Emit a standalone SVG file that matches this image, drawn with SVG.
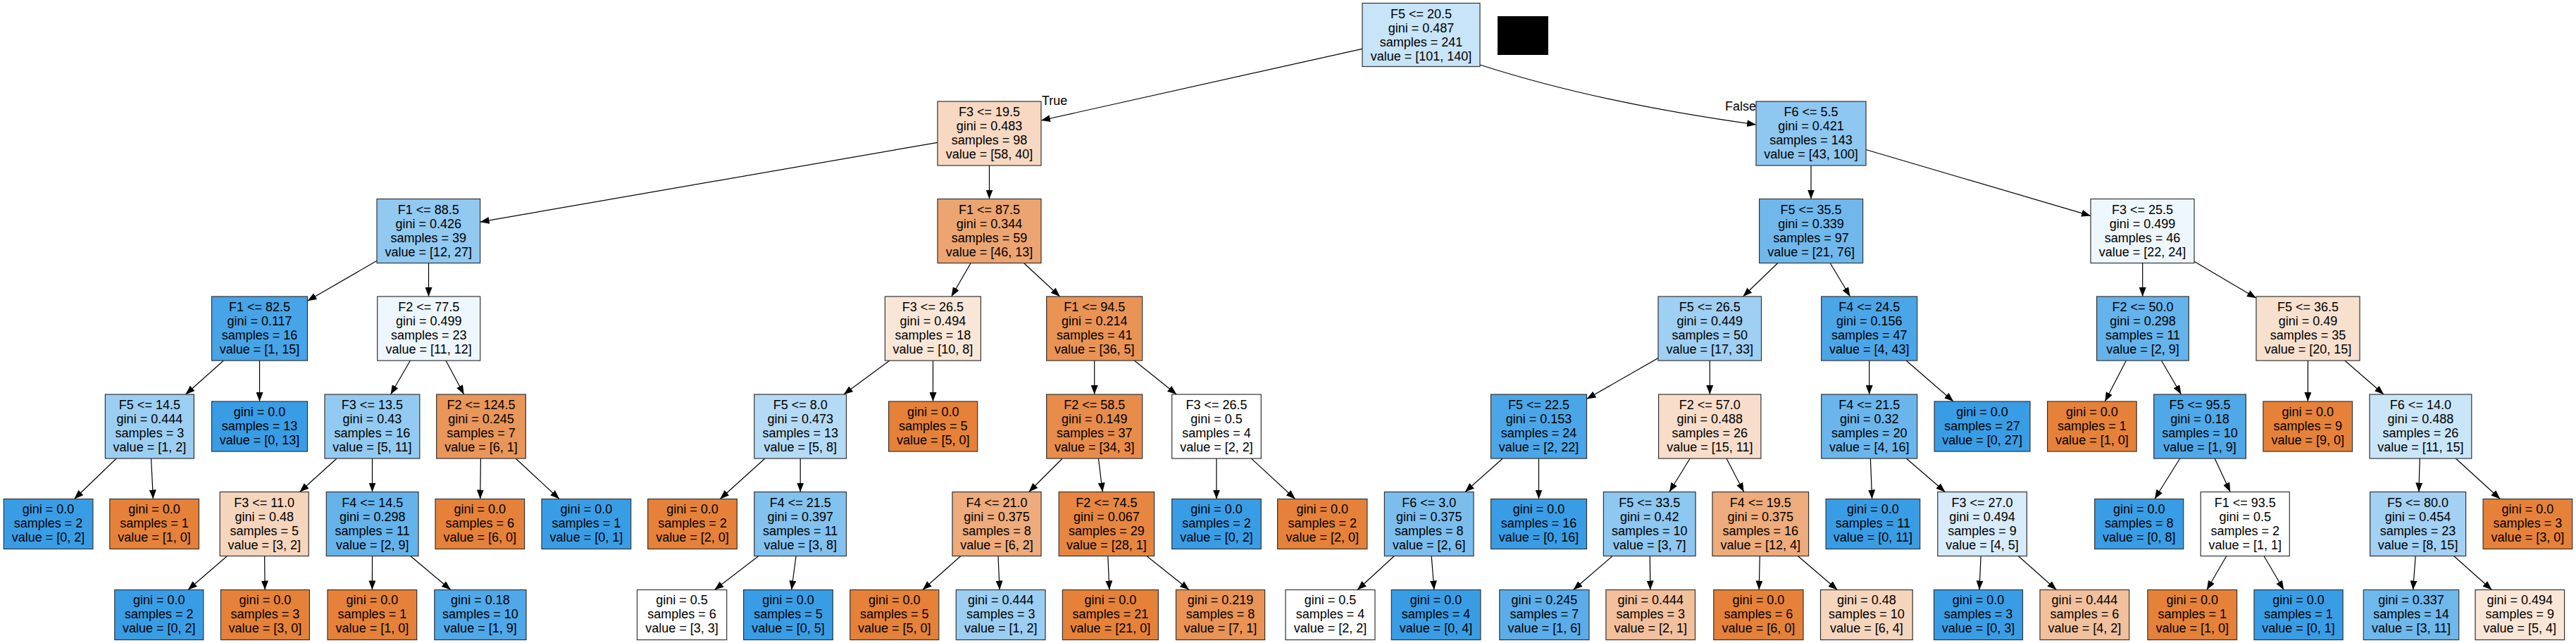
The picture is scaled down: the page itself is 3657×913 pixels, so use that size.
<svg xmlns="http://www.w3.org/2000/svg" width="3657" height="913" viewBox="0 0 3657 913">
<defs>
<marker id="arr" viewBox="0 0 13 10" refX="13" refY="5" markerWidth="13" markerHeight="10" markerUnits="userSpaceOnUse" orient="auto"><path d="M0,0 L13,5 L0,10 z" fill="#000"/></marker>
</defs>
<style>
.node rect{stroke:#333;stroke-width:1.2}
text{font-family:"Liberation Sans",Arial,Helvetica,sans-serif;font-size:18px;fill:#000;text-anchor:middle}
.lbl{text-anchor:start}
.lblend{text-anchor:end}
#edges path{stroke:#000;stroke-width:1.2;fill:none;marker-end:url(#arr)}
.o{fill:#e58139}.b{fill:#399de5}.w{fill:#ffffff}
</style>
<rect x="0" y="0" width="3657" height="913" fill="#ffffff"/>
<g id="edges">
<path d="M1934,69.4 L1478,171"/>
<path d="M2101,92 C2231,134 2363,159 2493,177"/>
<path d="M1331,202.3 L681.6,315.2"/>
<path d="M1404.5,235 L1404.5,282.5"/>
<path d="M2571,235 L2571,282.5"/>
<path d="M2649,212.5 L2968,306.4"/>
<path d="M535,370.3 L436.5,427.2"/>
<path d="M608.5,373.5 L608.5,421"/>
<path d="M1378.2,373.5 L1350.7,421"/>
<path d="M1453.5,373.5 L1504.7,421"/>
<path d="M2523.8,373.5 L2474.5,421"/>
<path d="M2598.2,373.5 L2626.5,421"/>
<path d="M3041.7,373.5 L3041.7,421"/>
<path d="M3115,371.3 L3203,423.2"/>
<path d="M317.4,512 L263.5,560"/>
<path d="M368.5,512 L368.5,570"/>
<path d="M582.4,512 L554.6,560"/>
<path d="M633,512 L658.7,560"/>
<path d="M1262.8,512 L1197.8,560"/>
<path d="M1324.5,512 L1324.5,570"/>
<path d="M1553.7,512 L1553.7,560"/>
<path d="M1610.4,512 L1670.3,560"/>
<path d="M2354,508.4 L2252.5,566.6"/>
<path d="M2427.3,512 L2427.3,560"/>
<path d="M2653.7,512 L2653.7,560"/>
<path d="M2706.2,512 L2773.1,570"/>
<path d="M3018.4,512 L2988.3,570"/>
<path d="M3068.5,512 L3096.5,560"/>
<path d="M3276.4,512 L3276.4,570"/>
<path d="M3328.8,512 L3384.1,560"/>
<path d="M165.2,651 L105.5,708.5"/>
<path d="M214.6,651 L217.4,708.5"/>
<path d="M478.1,651 L425.5,698.5"/>
<path d="M528.5,651 L528.5,698.5"/>
<path d="M682.4,651 L681.7,708.5"/>
<path d="M732.1,651 L794.1,708.5"/>
<path d="M1085.9,651 L1022.3,708.5"/>
<path d="M1136.2,651 L1136.2,698.5"/>
<path d="M1508.2,651 L1460.6,698.5"/>
<path d="M1559.4,651 L1565.3,698.5"/>
<path d="M1727,651 L1727,708.5"/>
<path d="M1776.4,651 L1838.7,708.5"/>
<path d="M2133.3,651 L2079.9,698.5"/>
<path d="M2184.5,651 L2184.5,708.5"/>
<path d="M2399.2,651 L2369.9,698.5"/>
<path d="M2451,651 L2475.7,698.5"/>
<path d="M2655.4,651 L2657.6,708.5"/>
<path d="M2706.4,651 L2761.4,698.5"/>
<path d="M3094.7,651 L3058.9,708.5"/>
<path d="M3144.2,651 L3166.2,698.5"/>
<path d="M3435.2,651 L3433.9,698.5"/>
<path d="M3486.3,651 L3549.4,708.5"/>
<path d="M322.5,789.5 L266.9,837.5"/>
<path d="M375.6,789.5 L376.1,837.5"/>
<path d="M528.5,789.5 L528.4,837.5"/>
<path d="M582.7,789.5 L639.8,837.5"/>
<path d="M1076.9,789.5 L1014.4,837.5"/>
<path d="M1130.1,789.5 L1123.7,837.5"/>
<path d="M1363.9,789.5 L1309.8,837.5"/>
<path d="M1417,789.5 L1419.1,837.5"/>
<path d="M1572.8,789.5 L1574.9,837.5"/>
<path d="M1627.9,789.5 L1688.1,837.5"/>
<path d="M1979.3,789.5 L1927.1,837.5"/>
<path d="M2032.2,789.5 L2035.9,837.5"/>
<path d="M2289.1,789.5 L2233.6,837.5"/>
<path d="M2342.3,789.5 L2342.8,837.5"/>
<path d="M2498.3,789.5 L2497.2,837.5"/>
<path d="M2552.4,789.5 L2608.4,837.5"/>
<path d="M2812.1,789.5 L2810,837.5"/>
<path d="M2865.3,789.5 L2919.4,837.5"/>
<path d="M3160.8,789.5 L3132.9,837.5"/>
<path d="M3214,789.5 L3242.2,837.5"/>
<path d="M3429.2,789.5 L3425.6,837.5"/>
<path d="M3483.6,789.5 L3537.5,837.5"/>
</g>
<text class="lbl" x="1479" y="148.5">True</text>
<text class="lblend" x="2493" y="156.5">False</text>
<rect x="2126" y="23" width="72" height="55" fill="#000"/>

<g id="n0" class="node"><rect x="1934" y="4.5" width="167" height="90" fill="#c8e4f8"/><text x="2017.5" y="25.5"><tspan x="2017.5">F5 &lt;= 20.5</tspan><tspan x="2017.5" dy="20">gini = 0.487</tspan><tspan x="2017.5" dy="20">samples = 241</tspan><tspan x="2017.5" dy="20">value = [101, 140]</tspan></text></g>

<g id="n1" class="node"><rect x="1331" y="144" width="147" height="91" fill="#f7d8c2"/><text x="1404.5" y="165"><tspan x="1404.5">F3 &lt;= 19.5</tspan><tspan x="1404.5" dy="20">gini = 0.483</tspan><tspan x="1404.5" dy="20">samples = 98</tspan><tspan x="1404.5" dy="20">value = [58, 40]</tspan></text></g>
<g id="n2" class="node"><rect x="2493" y="144" width="156" height="91" fill="#8ec7f0"/><text x="2571" y="165"><tspan x="2571">F6 &lt;= 5.5</tspan><tspan x="2571" dy="20">gini = 0.421</tspan><tspan x="2571" dy="20">samples = 143</tspan><tspan x="2571" dy="20">value = [43, 100]</tspan></text></g>

<g id="n3" class="node"><rect x="535" y="282.5" width="146.6" height="91" fill="#91c9f1"/><text x="608.3" y="303.5"><tspan x="608.3">F1 &lt;= 88.5</tspan><tspan x="608.3" dy="20">gini = 0.426</tspan><tspan x="608.3" dy="20">samples = 39</tspan><tspan x="608.3" dy="20">value = [12, 27]</tspan></text></g>
<g id="n4" class="node"><rect x="1331" y="282.5" width="147" height="91" fill="#eca571"/><text x="1404.5" y="303.5"><tspan x="1404.5">F1 &lt;= 87.5</tspan><tspan x="1404.5" dy="20">gini = 0.344</tspan><tspan x="1404.5" dy="20">samples = 59</tspan><tspan x="1404.5" dy="20">value = [46, 13]</tspan></text></g>
<g id="n5" class="node"><rect x="2497.6" y="282.5" width="147" height="91" fill="#70b8ec"/><text x="2571.1" y="303.5"><tspan x="2571.1">F5 &lt;= 35.5</tspan><tspan x="2571.1" dy="20">gini = 0.339</tspan><tspan x="2571.1" dy="20">samples = 97</tspan><tspan x="2571.1" dy="20">value = [21, 76]</tspan></text></g>
<g id="n6" class="node"><rect x="2968" y="282.5" width="147" height="91" fill="#eef7fd"/><text x="3041.5" y="303.5"><tspan x="3041.5">F3 &lt;= 25.5</tspan><tspan x="3041.5" dy="20">gini = 0.499</tspan><tspan x="3041.5" dy="20">samples = 46</tspan><tspan x="3041.5" dy="20">value = [22, 24]</tspan></text></g>

<g id="n7" class="node"><rect x="300.5" y="421" width="136" height="91" fill="#46a4e7"/><text x="368.5" y="442"><tspan x="368.5">F1 &lt;= 82.5</tspan><tspan x="368.5" dy="20">gini = 0.117</tspan><tspan x="368.5" dy="20">samples = 16</tspan><tspan x="368.5" dy="20">value = [1, 15]</tspan></text></g>
<g id="n8" class="node"><rect x="535.7" y="421" width="146" height="91" fill="#eef7fd"/><text x="608.7" y="442"><tspan x="608.7">F2 &lt;= 77.5</tspan><tspan x="608.7" dy="20">gini = 0.499</tspan><tspan x="608.7" dy="20">samples = 23</tspan><tspan x="608.7" dy="20">value = [11, 12]</tspan></text></g>
<g id="n9" class="node"><rect x="1256.4" y="421" width="136" height="91" fill="#fae6d7"/><text x="1324.4" y="442"><tspan x="1324.4">F3 &lt;= 26.5</tspan><tspan x="1324.4" dy="20">gini = 0.494</tspan><tspan x="1324.4" dy="20">samples = 18</tspan><tspan x="1324.4" dy="20">value = [10, 8]</tspan></text></g>
<g id="n10" class="node"><rect x="1485.7" y="421" width="136" height="91" fill="#e99355"/><text x="1553.7" y="442"><tspan x="1553.7">F1 &lt;= 94.5</tspan><tspan x="1553.7" dy="20">gini = 0.214</tspan><tspan x="1553.7" dy="20">samples = 41</tspan><tspan x="1553.7" dy="20">value = [36, 5]</tspan></text></g>
<g id="n11" class="node"><rect x="2354" y="421" width="146.5" height="91" fill="#9fcff2"/><text x="2427.3" y="442"><tspan x="2427.3">F5 &lt;= 26.5</tspan><tspan x="2427.3" dy="20">gini = 0.449</tspan><tspan x="2427.3" dy="20">samples = 50</tspan><tspan x="2427.3" dy="20">value = [17, 33]</tspan></text></g>
<g id="n12" class="node"><rect x="2585.7" y="421" width="136" height="91" fill="#4ba6e7"/><text x="2653.7" y="442"><tspan x="2653.7">F4 &lt;= 24.5</tspan><tspan x="2653.7" dy="20">gini = 0.156</tspan><tspan x="2653.7" dy="20">samples = 47</tspan><tspan x="2653.7" dy="20">value = [4, 43]</tspan></text></g>
<g id="n13" class="node"><rect x="2976.6" y="421" width="130.7" height="91" fill="#65b3eb"/><text x="3042" y="442"><tspan x="3042">F2 &lt;= 50.0</tspan><tspan x="3042" dy="20">gini = 0.298</tspan><tspan x="3042" dy="20">samples = 11</tspan><tspan x="3042" dy="20">value = [2, 9]</tspan></text></g>
<g id="n14" class="node"><rect x="3203" y="421" width="147" height="91" fill="#f8e0ce"/><text x="3276.5" y="442"><tspan x="3276.5">F5 &lt;= 36.5</tspan><tspan x="3276.5" dy="20">gini = 0.49</tspan><tspan x="3276.5" dy="20">samples = 35</tspan><tspan x="3276.5" dy="20">value = [20, 15]</tspan></text></g>

<g id="n15" class="node"><rect x="149.4" y="560" width="126" height="91" fill="#9ccef2"/><text x="212.4" y="581"><tspan x="212.4">F5 &lt;= 14.5</tspan><tspan x="212.4" dy="20">gini = 0.444</tspan><tspan x="212.4" dy="20">samples = 3</tspan><tspan x="212.4" dy="20">value = [1, 2]</tspan></text></g>
<g id="n16" class="node"><rect x="300.5" y="570" width="136" height="71" class="b"/><text x="368.5" y="590.5"><tspan x="368.5">gini = 0.0</tspan><tspan x="368.5" dy="20">samples = 13</tspan><tspan x="368.5" dy="20">value = [0, 13]</tspan></text></g>
<g id="n17" class="node"><rect x="461" y="560" width="134.8" height="91" fill="#93caf1"/><text x="528.4" y="581"><tspan x="528.4">F3 &lt;= 13.5</tspan><tspan x="528.4" dy="20">gini = 0.43</tspan><tspan x="528.4" dy="20">samples = 16</tspan><tspan x="528.4" dy="20">value = [5, 11]</tspan></text></g>
<g id="n18" class="node"><rect x="619.7" y="560" width="126.6" height="91" fill="#e9965a"/><text x="683" y="581"><tspan x="683">F2 &lt;= 124.5</tspan><tspan x="683" dy="20">gini = 0.245</tspan><tspan x="683" dy="20">samples = 7</tspan><tspan x="683" dy="20">value = [6, 1]</tspan></text></g>
<g id="n19" class="node"><rect x="1070.8" y="560" width="130.7" height="91" fill="#b5daf5"/><text x="1136.2" y="581"><tspan x="1136.2">F5 &lt;= 8.0</tspan><tspan x="1136.2" dy="20">gini = 0.473</tspan><tspan x="1136.2" dy="20">samples = 13</tspan><tspan x="1136.2" dy="20">value = [5, 8]</tspan></text></g>
<g id="n20" class="node"><rect x="1261.6" y="570" width="126.1" height="71" class="o"/><text x="1324.7" y="590.5"><tspan x="1324.7">gini = 0.0</tspan><tspan x="1324.7" dy="20">samples = 5</tspan><tspan x="1324.7" dy="20">value = [5, 0]</tspan></text></g>
<g id="n21" class="node"><rect x="1485.7" y="560" width="136" height="91" fill="#e78c4a"/><text x="1553.7" y="581"><tspan x="1553.7">F2 &lt;= 58.5</tspan><tspan x="1553.7" dy="20">gini = 0.149</tspan><tspan x="1553.7" dy="20">samples = 37</tspan><tspan x="1553.7" dy="20">value = [34, 3]</tspan></text></g>
<g id="n22" class="node"><rect x="1663.7" y="560" width="126.6" height="91" class="w"/><text x="1727" y="581"><tspan x="1727">F3 &lt;= 26.5</tspan><tspan x="1727" dy="20">gini = 0.5</tspan><tspan x="1727" dy="20">samples = 4</tspan><tspan x="1727" dy="20">value = [2, 2]</tspan></text></g>
<g id="n23" class="node"><rect x="2116.5" y="560" width="136" height="91" fill="#4ba6e7"/><text x="2184.5" y="581"><tspan x="2184.5">F5 &lt;= 22.5</tspan><tspan x="2184.5" dy="20">gini = 0.153</tspan><tspan x="2184.5" dy="20">samples = 24</tspan><tspan x="2184.5" dy="20">value = [2, 22]</tspan></text></g>
<g id="n24" class="node"><rect x="2354.6" y="560" width="145.3" height="91" fill="#f8ddca"/><text x="2427.3" y="581"><tspan x="2427.3">F2 &lt;= 57.0</tspan><tspan x="2427.3" dy="20">gini = 0.488</tspan><tspan x="2427.3" dy="20">samples = 26</tspan><tspan x="2427.3" dy="20">value = [15, 11]</tspan></text></g>
<g id="n25" class="node"><rect x="2585.7" y="560" width="136" height="91" fill="#6ab6ec"/><text x="2653.7" y="581"><tspan x="2653.7">F4 &lt;= 21.5</tspan><tspan x="2653.7" dy="20">gini = 0.32</tspan><tspan x="2653.7" dy="20">samples = 20</tspan><tspan x="2653.7" dy="20">value = [4, 16]</tspan></text></g>
<g id="n26" class="node"><rect x="2746.1" y="570" width="135.9" height="71" class="b"/><text x="2814.1" y="590.5"><tspan x="2814.1">gini = 0.0</tspan><tspan x="2814.1" dy="20">samples = 27</tspan><tspan x="2814.1" dy="20">value = [0, 27]</tspan></text></g>
<g id="n27" class="node"><rect x="2906.6" y="570" width="126.6" height="71" class="o"/><text x="2969.9" y="590.5"><tspan x="2969.9">gini = 0.0</tspan><tspan x="2969.9" dy="20">samples = 1</tspan><tspan x="2969.9" dy="20">value = [1, 0]</tspan></text></g>
<g id="n28" class="node"><rect x="3057.7" y="560" width="130.7" height="91" fill="#4fa8e8"/><text x="3123.1" y="581"><tspan x="3123.1">F5 &lt;= 95.5</tspan><tspan x="3123.1" dy="20">gini = 0.18</tspan><tspan x="3123.1" dy="20">samples = 10</tspan><tspan x="3123.1" dy="20">value = [1, 9]</tspan></text></g>
<g id="n29" class="node"><rect x="3212.9" y="570" width="126.6" height="71" class="o"/><text x="3276.2" y="590.5"><tspan x="3276.2">gini = 0.0</tspan><tspan x="3276.2" dy="20">samples = 9</tspan><tspan x="3276.2" dy="20">value = [9, 0]</tspan></text></g>
<g id="n30" class="node"><rect x="3364" y="560" width="144.8" height="91" fill="#cae5f8"/><text x="3436.4" y="581"><tspan x="3436.4">F6 &lt;= 14.0</tspan><tspan x="3436.4" dy="20">gini = 0.488</tspan><tspan x="3436.4" dy="20">samples = 26</tspan><tspan x="3436.4" dy="20">value = [11, 15]</tspan></text></g>

<g id="n31" class="node"><rect x="5.3" y="708.5" width="126.6" height="71" class="b"/><text x="68.6" y="729"><tspan x="68.6">gini = 0.0</tspan><tspan x="68.6" dy="20">samples = 2</tspan><tspan x="68.6" dy="20">value = [0, 2]</tspan></text></g>
<g id="n32" class="node"><rect x="155.8" y="708.5" width="126.6" height="71" class="o"/><text x="219.1" y="729"><tspan x="219.1">gini = 0.0</tspan><tspan x="219.1" dy="20">samples = 1</tspan><tspan x="219.1" dy="20">value = [1, 0]</tspan></text></g>
<g id="n33" class="node"><rect x="312.2" y="698.5" width="126" height="91" fill="#f6d5bd"/><text x="375.2" y="719.5"><tspan x="375.2">F3 &lt;= 11.0</tspan><tspan x="375.2" dy="20">gini = 0.48</tspan><tspan x="375.2" dy="20">samples = 5</tspan><tspan x="375.2" dy="20">value = [3, 2]</tspan></text></g>
<g id="n34" class="node"><rect x="463.3" y="698.5" width="130.7" height="91" fill="#65b3eb"/><text x="528.7" y="719.5"><tspan x="528.7">F4 &lt;= 14.5</tspan><tspan x="528.7" dy="20">gini = 0.298</tspan><tspan x="528.7" dy="20">samples = 11</tspan><tspan x="528.7" dy="20">value = [2, 9]</tspan></text></g>
<g id="n35" class="node"><rect x="618" y="708.5" width="126.6" height="71" class="o"/><text x="681.3" y="729"><tspan x="681.3">gini = 0.0</tspan><tspan x="681.3" dy="20">samples = 6</tspan><tspan x="681.3" dy="20">value = [6, 0]</tspan></text></g>
<g id="n36" class="node"><rect x="769" y="708.5" width="126.7" height="71" class="b"/><text x="832.4" y="729"><tspan x="832.4">gini = 0.0</tspan><tspan x="832.4" dy="20">samples = 1</tspan><tspan x="832.4" dy="20">value = [0, 1]</tspan></text></g>
<g id="n37" class="node"><rect x="919.7" y="708.5" width="126.6" height="71" class="o"/><text x="983" y="729"><tspan x="983">gini = 0.0</tspan><tspan x="983" dy="20">samples = 2</tspan><tspan x="983" dy="20">value = [2, 0]</tspan></text></g>
<g id="n38" class="node"><rect x="1070.8" y="698.5" width="130.7" height="91" fill="#83c2ef"/><text x="1136.2" y="719.5"><tspan x="1136.2">F4 &lt;= 21.5</tspan><tspan x="1136.2" dy="20">gini = 0.397</tspan><tspan x="1136.2" dy="20">samples = 11</tspan><tspan x="1136.2" dy="20">value = [3, 8]</tspan></text></g>
<g id="n39" class="node"><rect x="1352" y="698.5" width="126.1" height="91" fill="#eeab7b"/><text x="1415.1" y="719.5"><tspan x="1415.1">F4 &lt;= 21.0</tspan><tspan x="1415.1" dy="20">gini = 0.375</tspan><tspan x="1415.1" dy="20">samples = 8</tspan><tspan x="1415.1" dy="20">value = [6, 2]</tspan></text></g>
<g id="n40" class="node"><rect x="1503.2" y="698.5" width="135.4" height="91" fill="#e68640"/><text x="1570.9" y="719.5"><tspan x="1570.9">F2 &lt;= 74.5</tspan><tspan x="1570.9" dy="20">gini = 0.067</tspan><tspan x="1570.9" dy="20">samples = 29</tspan><tspan x="1570.9" dy="20">value = [28, 1]</tspan></text></g>
<g id="n41" class="node"><rect x="1663.7" y="708.5" width="126.6" height="71" class="b"/><text x="1727" y="729"><tspan x="1727">gini = 0.0</tspan><tspan x="1727" dy="20">samples = 2</tspan><tspan x="1727" dy="20">value = [0, 2]</tspan></text></g>
<g id="n42" class="node"><rect x="1813.6" y="708.5" width="127.3" height="71" class="o"/><text x="1877.3" y="729"><tspan x="1877.3">gini = 0.0</tspan><tspan x="1877.3" dy="20">samples = 2</tspan><tspan x="1877.3" dy="20">value = [2, 0]</tspan></text></g>
<g id="n43" class="node"><rect x="1965.4" y="698.5" width="126.6" height="91" fill="#7bbeee"/><text x="2028.7" y="719.5"><tspan x="2028.7">F6 &lt;= 3.0</tspan><tspan x="2028.7" dy="20">gini = 0.375</tspan><tspan x="2028.7" dy="20">samples = 8</tspan><tspan x="2028.7" dy="20">value = [2, 6]</tspan></text></g>
<g id="n44" class="node"><rect x="2116.5" y="708.5" width="136" height="71" class="b"/><text x="2184.5" y="729"><tspan x="2184.5">gini = 0.0</tspan><tspan x="2184.5" dy="20">samples = 16</tspan><tspan x="2184.5" dy="20">value = [0, 16]</tspan></text></g>
<g id="n45" class="node"><rect x="2276.4" y="698.5" width="130.7" height="91" fill="#8ec7f0"/><text x="2341.8" y="719.5"><tspan x="2341.8">F5 &lt;= 33.5</tspan><tspan x="2341.8" dy="20">gini = 0.42</tspan><tspan x="2341.8" dy="20">samples = 10</tspan><tspan x="2341.8" dy="20">value = [3, 7]</tspan></text></g>
<g id="n46" class="node"><rect x="2431" y="698.5" width="136.6" height="91" fill="#eeab7b"/><text x="2499.3" y="719.5"><tspan x="2499.3">F4 &lt;= 19.5</tspan><tspan x="2499.3" dy="20">gini = 0.375</tspan><tspan x="2499.3" dy="20">samples = 16</tspan><tspan x="2499.3" dy="20">value = [12, 4]</tspan></text></g>
<g id="n47" class="node"><rect x="2592.1" y="708.5" width="133.6" height="71" class="b"/><text x="2658.9" y="729"><tspan x="2658.9">gini = 0.0</tspan><tspan x="2658.9" dy="20">samples = 11</tspan><tspan x="2658.9" dy="20">value = [0, 11]</tspan></text></g>
<g id="n48" class="node"><rect x="2750.8" y="698.5" width="126.6" height="91" fill="#d7ebfa"/><text x="2814.1" y="719.5"><tspan x="2814.1">F3 &lt;= 27.0</tspan><tspan x="2814.1" dy="20">gini = 0.494</tspan><tspan x="2814.1" dy="20">samples = 9</tspan><tspan x="2814.1" dy="20">value = [4, 5]</tspan></text></g>
<g id="n49" class="node"><rect x="2973.7" y="708.5" width="126" height="71" class="b"/><text x="3036.7" y="729"><tspan x="3036.7">gini = 0.0</tspan><tspan x="3036.7" dy="20">samples = 8</tspan><tspan x="3036.7" dy="20">value = [0, 8]</tspan></text></g>
<g id="n50" class="node"><rect x="3124.2" y="698.5" width="126.1" height="91" class="w"/><text x="3187.3" y="719.5"><tspan x="3187.3">F1 &lt;= 93.5</tspan><tspan x="3187.3" dy="20">gini = 0.5</tspan><tspan x="3187.3" dy="20">samples = 2</tspan><tspan x="3187.3" dy="20">value = [1, 1]</tspan></text></g>
<g id="n51" class="node"><rect x="3364.6" y="698.5" width="136" height="91" fill="#a3d1f3"/><text x="3432.6" y="719.5"><tspan x="3432.6">F5 &lt;= 80.0</tspan><tspan x="3432.6" dy="20">gini = 0.454</tspan><tspan x="3432.6" dy="20">samples = 23</tspan><tspan x="3432.6" dy="20">value = [8, 15]</tspan></text></g>
<g id="n52" class="node"><rect x="3525.1" y="708.5" width="126.6" height="71" class="o"/><text x="3588.4" y="729"><tspan x="3588.4">gini = 0.0</tspan><tspan x="3588.4" dy="20">samples = 3</tspan><tspan x="3588.4" dy="20">value = [3, 0]</tspan></text></g>

<g id="n53" class="node"><rect x="162.8" y="837.5" width="126" height="71" class="b"/><text x="225.8" y="858"><tspan x="225.8">gini = 0.0</tspan><tspan x="225.8" dy="20">samples = 2</tspan><tspan x="225.8" dy="20">value = [0, 2]</tspan></text></g>
<g id="n54" class="node"><rect x="313.4" y="837.5" width="126" height="71" class="o"/><text x="376.4" y="858"><tspan x="376.4">gini = 0.0</tspan><tspan x="376.4" dy="20">samples = 3</tspan><tspan x="376.4" dy="20">value = [3, 0]</tspan></text></g>
<g id="n55" class="node"><rect x="465" y="837.5" width="126.7" height="71" class="o"/><text x="528.4" y="858"><tspan x="528.4">gini = 0.0</tspan><tspan x="528.4" dy="20">samples = 1</tspan><tspan x="528.4" dy="20">value = [1, 0]</tspan></text></g>
<g id="n56" class="node"><rect x="616.8" y="837.5" width="130.2" height="71" fill="#4fa8e8"/><text x="681.9" y="858"><tspan x="681.9">gini = 0.18</tspan><tspan x="681.9" dy="20">samples = 10</tspan><tspan x="681.9" dy="20">value = [1, 9]</tspan></text></g>
<g id="n57" class="node"><rect x="904.5" y="837.5" width="127.2" height="71" class="w"/><text x="968.1" y="858"><tspan x="968.1">gini = 0.5</tspan><tspan x="968.1" dy="20">samples = 6</tspan><tspan x="968.1" dy="20">value = [3, 3]</tspan></text></g>
<g id="n58" class="node"><rect x="1055.6" y="837.5" width="126.7" height="71" class="b"/><text x="1119" y="858"><tspan x="1119">gini = 0.0</tspan><tspan x="1119" dy="20">samples = 5</tspan><tspan x="1119" dy="20">value = [0, 5]</tspan></text></g>
<g id="n59" class="node"><rect x="1206.8" y="837.5" width="126" height="71" class="o"/><text x="1269.8" y="858"><tspan x="1269.8">gini = 0.0</tspan><tspan x="1269.8" dy="20">samples = 5</tspan><tspan x="1269.8" dy="20">value = [5, 0]</tspan></text></g>
<g id="n60" class="node"><rect x="1357.3" y="837.5" width="126.7" height="71" fill="#9ccef2"/><text x="1420.7" y="858"><tspan x="1420.7">gini = 0.444</tspan><tspan x="1420.7" dy="20">samples = 3</tspan><tspan x="1420.7" dy="20">value = [1, 2]</tspan></text></g>
<g id="n61" class="node"><rect x="1508.4" y="837.5" width="136" height="71" class="o"/><text x="1576.4" y="858"><tspan x="1576.4">gini = 0.0</tspan><tspan x="1576.4" dy="20">samples = 21</tspan><tspan x="1576.4" dy="20">value = [21, 0]</tspan></text></g>
<g id="n62" class="node"><rect x="1669.5" y="837.5" width="126.1" height="71" fill="#e99355"/><text x="1732.6" y="858"><tspan x="1732.6">gini = 0.219</tspan><tspan x="1732.6" dy="20">samples = 8</tspan><tspan x="1732.6" dy="20">value = [7, 1]</tspan></text></g>
<g id="n63" class="node"><rect x="1825" y="837.5" width="127" height="71" class="w"/><text x="1888.5" y="858"><tspan x="1888.5">gini = 0.5</tspan><tspan x="1888.5" dy="20">samples = 4</tspan><tspan x="1888.5" dy="20">value = [2, 2]</tspan></text></g>
<g id="n64" class="node"><rect x="1975.3" y="837.5" width="126.6" height="71" class="b"/><text x="2038.6" y="858"><tspan x="2038.6">gini = 0.0</tspan><tspan x="2038.6" dy="20">samples = 4</tspan><tspan x="2038.6" dy="20">value = [0, 4]</tspan></text></g>
<g id="n65" class="node"><rect x="2128.8" y="837.5" width="127.2" height="71" fill="#5aade9"/><text x="2192.4" y="858"><tspan x="2192.4">gini = 0.245</tspan><tspan x="2192.4" dy="20">samples = 7</tspan><tspan x="2192.4" dy="20">value = [1, 6]</tspan></text></g>
<g id="n66" class="node"><rect x="2279.9" y="837.5" width="126.6" height="71" fill="#f2c09c"/><text x="2343.2" y="858"><tspan x="2343.2">gini = 0.444</tspan><tspan x="2343.2" dy="20">samples = 3</tspan><tspan x="2343.2" dy="20">value = [2, 1]</tspan></text></g>
<g id="n67" class="node"><rect x="2432.8" y="837.5" width="127.2" height="71" class="o"/><text x="2496.4" y="858"><tspan x="2496.4">gini = 0.0</tspan><tspan x="2496.4" dy="20">samples = 6</tspan><tspan x="2496.4" dy="20">value = [6, 0]</tspan></text></g>
<g id="n68" class="node"><rect x="2584.5" y="837.5" width="130.7" height="71" fill="#f6d5bd"/><text x="2649.9" y="858"><tspan x="2649.9">gini = 0.48</tspan><tspan x="2649.9" dy="20">samples = 10</tspan><tspan x="2649.9" dy="20">value = [6, 4]</tspan></text></g>
<g id="n69" class="node"><rect x="2745.5" y="837.5" width="126" height="71" class="b"/><text x="2808.5" y="858"><tspan x="2808.5">gini = 0.0</tspan><tspan x="2808.5" dy="20">samples = 3</tspan><tspan x="2808.5" dy="20">value = [0, 3]</tspan></text></g>
<g id="n70" class="node"><rect x="2896" y="837.5" width="126.7" height="71" fill="#f2c09c"/><text x="2959.4" y="858"><tspan x="2959.4">gini = 0.444</tspan><tspan x="2959.4" dy="20">samples = 6</tspan><tspan x="2959.4" dy="20">value = [4, 2]</tspan></text></g>
<g id="n71" class="node"><rect x="3048.9" y="837.5" width="126.7" height="71" class="o"/><text x="3112.3" y="858"><tspan x="3112.3">gini = 0.0</tspan><tspan x="3112.3" dy="20">samples = 1</tspan><tspan x="3112.3" dy="20">value = [1, 0]</tspan></text></g>
<g id="n72" class="node"><rect x="3200" y="837.5" width="126.1" height="71" class="b"/><text x="3263.1" y="858"><tspan x="3263.1">gini = 0.0</tspan><tspan x="3263.1" dy="20">samples = 1</tspan><tspan x="3263.1" dy="20">value = [0, 1]</tspan></text></g>
<g id="n73" class="node"><rect x="3355.3" y="837.5" width="135.4" height="71" fill="#6fb8ec"/><text x="3423" y="858"><tspan x="3423">gini = 0.337</tspan><tspan x="3423" dy="20">samples = 14</tspan><tspan x="3423" dy="20">value = [3, 11]</tspan></text></g>
<g id="n74" class="node"><rect x="3514" y="837.5" width="126.6" height="71" fill="#fae6d7"/><text x="3577.3" y="858"><tspan x="3577.3">gini = 0.494</tspan><tspan x="3577.3" dy="20">samples = 9</tspan><tspan x="3577.3" dy="20">value = [5, 4]</tspan></text></g>
</svg>
